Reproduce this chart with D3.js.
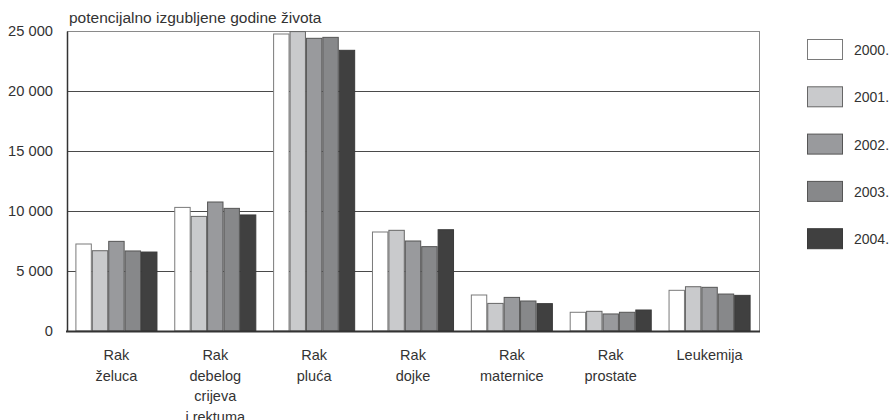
<!DOCTYPE html>
<html>
<head>
<meta charset="utf-8">
<script src="https://cdn.jsdelivr.net/npm/d3@7"></script>
<style>
  html, body { margin: 0; padding: 0; background: #fff; }
  svg text { font-family: "Liberation Sans", Arial, sans-serif; fill: #333; }
</style>
</head>
<body>
<div id="chart"></div>
<script>
// Data
const categories = [
  ['Rak', 'želuca'],
  ['Rak', 'debelog', 'crijeva', 'i rektuma'],
  ['Rak', 'pluća'],
  ['Rak', 'dojke'],
  ['Rak', 'maternice'],
  ['Rak', 'prostate'],
  ['Leukemija']
];
const years = ['2000.', '2001.', '2002.', '2003.', '2004.'];
const values2000 = [7250, 10300, 24750, 8250, 3000, 1560, 3390];
const values2001 = [6690, 9550, 24950, 8390, 2300, 1640, 3690];
const values2002 = [7470, 10750, 24390, 7500, 2800, 1420, 3640];
const values2003 = [6670, 10220, 24470, 7030, 2500, 1560, 3080];
const values2004 = [6580, 9670, 23390, 8440, 2280, 1750, 2970];
const yTicks = [0, 5000, 10000, 15000, 20000, 25000];
const yTitle = 'potencijalno izgubljene godine života';

const series = [values2000, values2001, values2002, values2003, values2004];
const fills = ['#ffffff', '#c9cacc', '#999a9d', '#87888a', '#404040'];
const strokes = ['#7a7a7a', '#666', '#555', '#555', '#3a3a3a'];

const width = 892, height = 420;
const plot = { left: 67, right: 759, top: 31, bottom: 331 };

const svg = d3.select('#chart').append('svg')
  .attr('width', width)
  .attr('height', height);

const x0 = d3.scaleBand()
  .domain(d3.range(categories.length))
  .range([plot.left, plot.right])
  .paddingInner(0.17)
  .paddingOuter(0.085);

const x1 = d3.scaleBand()
  .domain(d3.range(years.length))
  .range([0, x0.bandwidth()]);

const y = d3.scaleLinear()
  .domain([0, 25000])
  .range([plot.bottom, plot.top]);

const fmt = v => d3.format(',')(v).replace(/,/g, ' ');

// gridlines
svg.append('g')
  .selectAll('line')
  .data(yTicks.filter(t => t > 0 && t < 25000))
  .join('line')
  .attr('x1', plot.left).attr('x2', plot.right)
  .attr('y1', d => Math.round(y(d)) + 0.5).attr('y2', d => Math.round(y(d)) + 0.5)
  .attr('stroke', '#4a4a4a').attr('stroke-width', 1);

// frame top & right
svg.append('line')
  .attr('x1', plot.left).attr('x2', plot.right)
  .attr('y1', y(25000) + 0.5).attr('y2', y(25000) + 0.5)
  .attr('stroke', '#8a8a8a');
svg.append('line')
  .attr('x1', plot.right + 0.5).attr('x2', plot.right + 0.5)
  .attr('y1', plot.top).attr('y2', plot.bottom)
  .attr('stroke', '#8a8a8a');

// bars
const groups = svg.append('g')
  .selectAll('g')
  .data(categories)
  .join('g')
  .attr('transform', (d, i) => `translate(${x0(i)},0)`);

groups.selectAll('rect')
  .data((d, i) => series.map((s, k) => ({ k, v: s[i] })))
  .join('rect')
  .attr('x', d => x1(d.k) + 0.5)
  .attr('y', d => y(d.v))
  .attr('width', x1.bandwidth() - 1)
  .attr('height', d => plot.bottom - y(d.v))
  .attr('fill', d => fills[d.k])
  .attr('stroke', d => strokes[d.k])
  .attr('stroke-width', 1);

// y axis
const yAxis = svg.append('g')
  .attr('transform', `translate(${plot.left},0)`)
  .call(d3.axisLeft(y).tickValues(yTicks).tickFormat(fmt).tickSize(0).tickPadding(14));
yAxis.select('.domain').attr('stroke', '#333').attr('stroke-width', 1.5);
yAxis.selectAll('text')
  .attr('font-size', '14.7px')
  .attr('fill', '#333')
  .attr('font-family', '"Liberation Sans", Arial, sans-serif');

// x axis baseline
svg.append('line')
  .attr('x1', plot.left - 1).attr('x2', plot.right + 1)
  .attr('y1', plot.bottom + 0.5).attr('y2', plot.bottom + 0.5)
  .attr('stroke', '#333').attr('stroke-width', 2);

// category labels
const labels = svg.append('g')
  .selectAll('text')
  .data(categories)
  .join('text')
  .attr('text-anchor', 'middle')
  .attr('font-size', '14.5px')
  .attr('x', (d, i) => x0(i) + x0.bandwidth() / 2)
  .attr('y', 360);
labels.selectAll('tspan')
  .data(d => d)
  .join('tspan')
  .attr('x', function () { return d3.select(this.parentNode).attr('x'); })
  .attr('dy', (d, i) => i === 0 ? 0 : 20.7)
  .text(d => d);

// y title
svg.append('text')
  .attr('x', plot.left + 2)
  .attr('y', 23)
  .attr('font-size', '15.5px')
  .text(yTitle);

// legend
const legend = svg.append('g')
  .selectAll('g')
  .data(years)
  .join('g')
  .attr('transform', (d, i) => `translate(807,${39 + i * 47.3})`);
legend.append('rect')
  .attr('x', 0.5).attr('y', 0.5)
  .attr('width', 35).attr('height', 20)
  .attr('fill', (d, i) => fills[i])
  .attr('stroke', (d, i) => strokes[i]);
legend.append('text')
  .attr('x', 47)
  .attr('y', 16)
  .attr('font-size', '14px')
  .text(d => d);
</script>
</body>
</html>
